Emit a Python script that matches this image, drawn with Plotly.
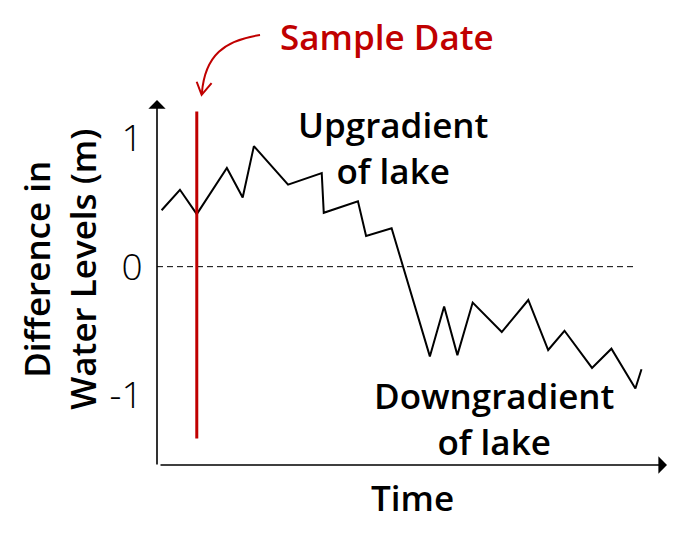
import plotly.graph_objects as go

# Data (time in arbitrary units 0-100, difference in m)
time = [0.9, 4.5, 7.8, 13.7, 16.8, 19.0, 25.7, 32.3, 32.7, 39.4, 41.0, 46.0,
        53.5, 56.3, 58.9, 61.9, 67.6, 72.8, 76.7, 79.9, 85.3, 89.1, 93.8, 95.0]
diff = [0.44, 0.60, 0.41, 0.77, 0.54, 0.94, 0.64, 0.73, 0.42, 0.51, 0.24, 0.30,
        -0.70, -0.31, -0.69, -0.28, -0.51, -0.26, -0.65, -0.50, -0.79, -0.64, -0.95, -0.80]
sample_time = 7.8
sample_range = [1.21, -1.34]
zero_line_x = [0, 94]
y_ticks = [-1, 0, 1]
y_tick_text = ["-1", "0", "1"]

RED = "#C00000"
FONT = "Open Sans"

fig = go.Figure()
fig.add_trace(go.Scatter(x=zero_line_x, y=[0, 0], mode="lines",
                         line=dict(color="black", width=1, dash="6px,4px"),
                         hoverinfo="skip", showlegend=False))
fig.add_trace(go.Scatter(x=time, y=diff, mode="lines",
                         line=dict(color="black", width=2),
                         showlegend=False))
fig.add_trace(go.Scatter(x=[sample_time, sample_time], y=sample_range, mode="lines",
                         line=dict(color=RED, width=3),
                         showlegend=False))

bold = dict(family=FONT, size=35, color="black", weight=600)

annotations = [
    # axes arrows
    dict(xref="paper", yref="paper", x=0, y=1.0, ax=0, ay=366, axref="pixel", ayref="pixel",
         text="", showarrow=True, arrowhead=1, arrowsize=1.8, arrowwidth=1.6, arrowcolor="black"),
    dict(xref="paper", yref="paper", x=1.0, y=0, ax=-508, ay=0, axref="pixel", ayref="pixel",
         text="", showarrow=True, arrowhead=1, arrowsize=1.8, arrowwidth=1.6, arrowcolor="black"),
    # titles
    dict(xref="paper", yref="paper", x=-0.190, y=0.535, text="Difference in<br>Water Levels (m)",
         textangle=-90, showarrow=False, font=bold, xanchor="center", yanchor="middle"),
    dict(xref="paper", yref="paper", x=0.5, y=-0.088, text="Time",
         showarrow=False, font=bold, xanchor="center", yanchor="middle"),
    dict(xref="paper", yref="paper", x=0.450, y=1.173, text="Sample Date",
         showarrow=False, font=dict(family=FONT, size=35, color=RED, weight=600),
         xanchor="center", yanchor="middle"),
    dict(xref="paper", yref="paper", x=0.463, y=0.870, text="Upgradient<br>of lake",
         showarrow=False, font=bold, xanchor="center", yanchor="middle"),
    dict(xref="paper", yref="paper", x=0.660, y=0.127, text="Downgradient<br>of lake",
         showarrow=False, font=bold, xanchor="center", yanchor="middle"),
]

shapes = [
    dict(type="path", xref="paper", yref="paper",
         path="M 0.202,1.178 C 0.133,1.164 0.094,1.123 0.088,1.019",
         line=dict(color=RED, width=2)),
    dict(type="path", xref="paper", yref="paper",
         path="M 0.0778,1.050 L 0.0875,1.014 L 0.107,1.046",
         line=dict(color=RED, width=2)),
]

fig.update_layout(
    width=673, height=534,
    margin=dict(l=149, r=14, t=92, b=77),
    paper_bgcolor="white", plot_bgcolor="white",
    xaxis=dict(range=[0, 100], showgrid=False, zeroline=False, showticklabels=False,
               showline=False, ticks=""),
    yaxis=dict(range=[-1.547, 1.30], showgrid=False, zeroline=False, showline=False,
               tickvals=y_ticks, ticktext=y_tick_text, ticks="outside", ticklen=6,
               tickcolor="rgba(0,0,0,0)",
               tickfont=dict(family=FONT, size=37, color="black", weight=300)),
    annotations=annotations,
    shapes=shapes,
)

fig.write_html("out.html")
